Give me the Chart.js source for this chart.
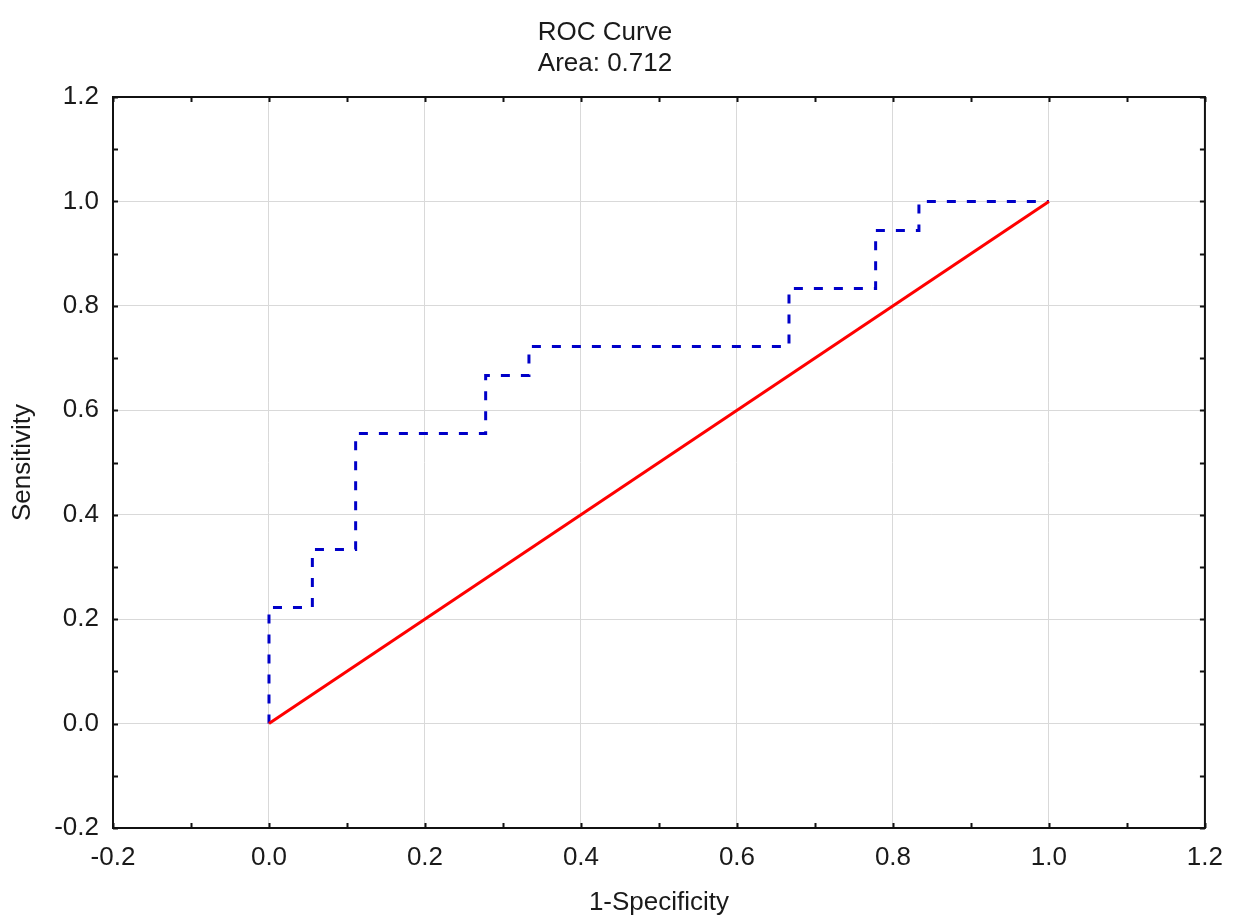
<!DOCTYPE html>
<html>
<head>
<meta charset="utf-8">
<title>ROC Curve</title>
<script src="https://cdn.jsdelivr.net/npm/chart.js@4/dist/chart.umd.min.js"></script>
<style>
  html, body { margin: 0; padding: 0; background: #fff; }
  #wrap { position: relative; width: 1237px; height: 918px; }
</style>
</head>
<body>
<div id="wrap"><canvas id="chart"></canvas></div>
<script>
// ROC points (1-specificity, sensitivity), steps drawn by the line's "stepped" mode
const fpr = [0, 0, 0.0556, 0.1111, 0.2778, 0.3333, 0.6667, 0.7778, 0.8333, 1.0];
const tpr = [0, 0.2222, 0.3333, 0.5556, 0.6667, 0.7222, 0.8333, 0.9444, 1.0, 1.0];

// reference (chance) line
const refX = [0, 1];
const refY = [0, 1];

const xTicks = [-0.2, 0.0, 0.2, 0.4, 0.6, 0.8, 1.0, 1.2];
const yTicks = [-0.2, 0.0, 0.2, 0.4, 0.6, 0.8, 1.0, 1.2];
const titleLines = ['ROC Curve', 'Area: 0.712'];

const FONT = "'Liberation Sans', Arial, sans-serif";
const TEXT = '#1a1a1a';

const toPoints = (xs, ys) => xs.map((x, i) => ({ x, y: ys[i] }));
const useTicks = list => scale => {
  scale.ticks = list.map(value => ({ value }));
};

// frame around the plot plus the small inward ticks every 0.1
const framePlugin = {
  id: 'frame',
  afterDraw(chart) {
    const { ctx, chartArea: a, scales } = chart;
    ctx.save();
    ctx.strokeStyle = '#111';
    ctx.lineWidth = 2;
    ctx.strokeRect(a.left, a.top, a.right - a.left, a.bottom - a.top);
    ctx.beginPath();
    for (let i = 0; i <= 14; i++) {
      const v = -0.2 + i * 0.1;
      const px = Math.round(scales.x.getPixelForValue(v)) + 0.5;
      const py = Math.round(scales.y.getPixelForValue(v)) + 0.5;
      ctx.moveTo(px, a.bottom); ctx.lineTo(px, a.bottom - 5);
      ctx.moveTo(px, a.top); ctx.lineTo(px, a.top + 5);
      ctx.moveTo(a.left, py); ctx.lineTo(a.left + 5, py);
      ctx.moveTo(a.right, py); ctx.lineTo(a.right - 5, py);
    }
    ctx.stroke();
    ctx.restore();
  },
};

new Chart(document.getElementById('chart'), {
  type: 'line',
  data: {
    datasets: [
      {
        label: 'Reference',
        data: toPoints(refX, refY),
        borderColor: '#ff0000',
        borderWidth: 3,
        pointRadius: 0,
        fill: false,
        order: 0,
      },
      {
        label: 'ROC',
        data: toPoints(fpr, tpr),
        stepped: true,
        borderColor: '#0000c8',
        borderWidth: 3,
        borderDash: [9, 11],
        pointRadius: 0,
        fill: false,
        order: 1,
      },
    ],
  },
  options: {
    responsive: true,
    maintainAspectRatio: false,
    animation: false,
    layout: { padding: { left: 0, right: 27, top: 0, bottom: 0 } },
    plugins: {
      legend: { display: false },
      tooltip: { enabled: false },
      title: {
        display: true,
        text: titleLines,
        color: TEXT,
        font: { family: FONT, size: 26, weight: 'normal', lineHeight: 1.2 },
        padding: { top: 17, bottom: 17.6 },
      },
    },
    scales: {
      x: {
        type: 'linear',
        min: -0.2,
        max: 1.2,
        afterBuildTicks: useTicks(xTicks),
        afterFit: s => { s.height = 90; },
        border: { display: false },
        grid: { color: '#d9d9d9', lineWidth: 1, drawTicks: false },
        ticks: {
          padding: 14,
          color: TEXT,
          font: { family: FONT, size: 26 },
          callback: v => v.toFixed(1),
          maxRotation: 0,
        },
        title: {
          display: true,
          text: '1-Specificity',
          color: TEXT,
          font: { family: FONT, size: 26, lineHeight: 1.2 },
          padding: { top: 0, bottom: 0 },
        },
      },
      y: {
        type: 'linear',
        min: -0.2,
        max: 1.2,
        afterBuildTicks: useTicks(yTicks),
        afterFit: s => { s.width = 113; },
        border: { display: false },
        grid: { color: '#d9d9d9', lineWidth: 1, drawTicks: false },
        ticks: {
          padding: 14,
          color: TEXT,
          font: { family: FONT, size: 26 },
          callback: v => v.toFixed(1),
        },
        title: {
          display: true,
          text: 'Sensitivity',
          color: TEXT,
          font: { family: FONT, size: 26, lineHeight: 1.2 },
          padding: { top: 7, bottom: 0 },
        },
      },
    },
  },
  plugins: [framePlugin],
});
</script>
</body>
</html>
